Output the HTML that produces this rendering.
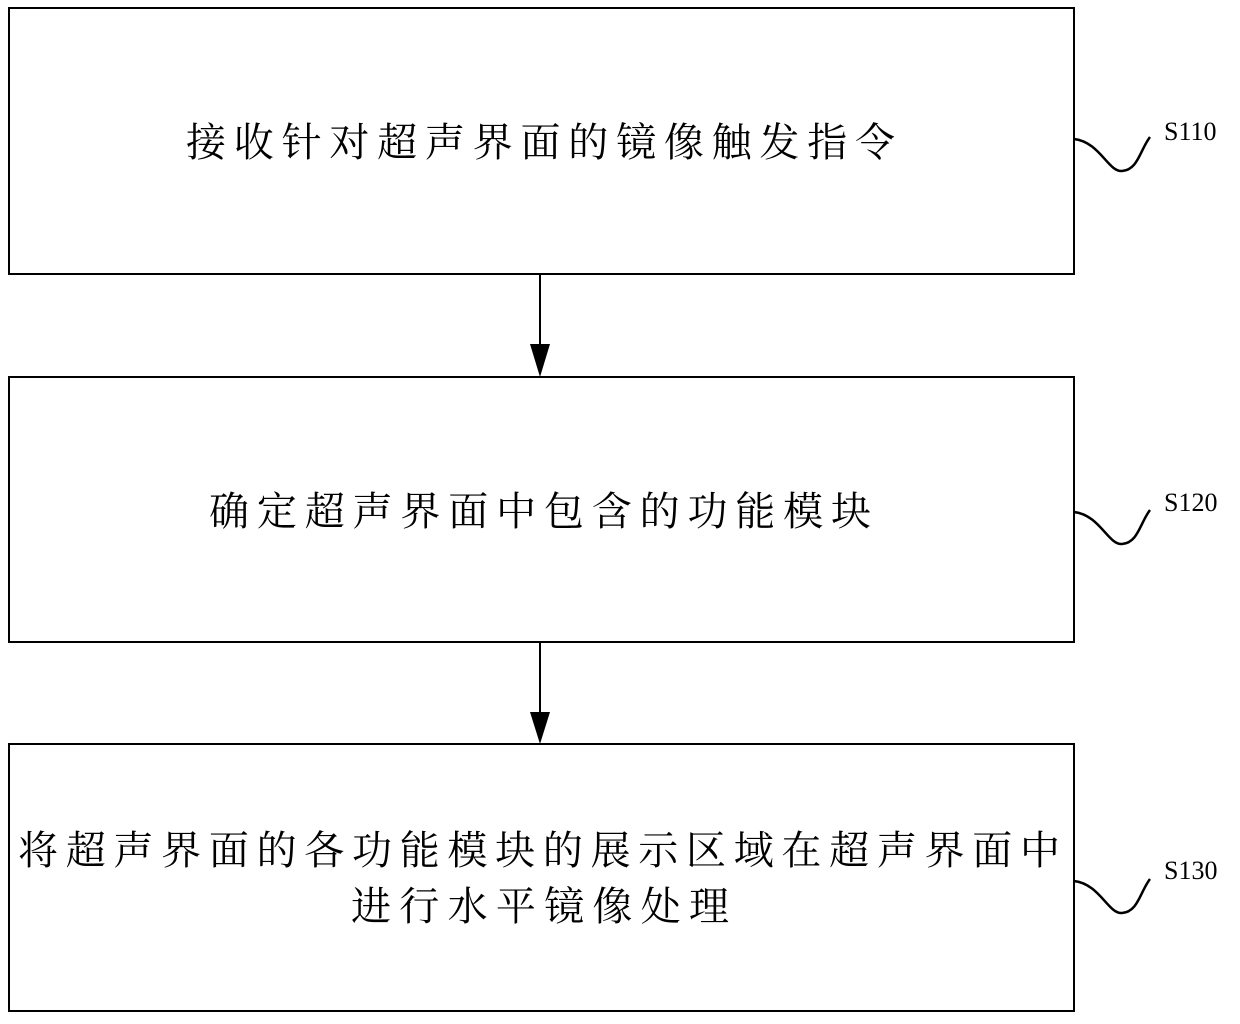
<!DOCTYPE html>
<html><head><meta charset="utf-8"><style>html,body{margin:0;padding:0;background:#fff;}</style></head>
<body>
<svg width="1240" height="1019" viewBox="0 0 1240 1019" xmlns="http://www.w3.org/2000/svg">
<g fill="none" stroke="#000" stroke-width="2">
<rect x="9" y="8" width="1065" height="266"/>
<rect x="9" y="377" width="1065" height="265"/>
<rect x="9" y="744" width="1065" height="267"/>
<line x1="540" y1="274" x2="540" y2="346"/>
<line x1="540" y1="642" x2="540" y2="714"/>
<path d="M1074 139 C1100 142 1108 172 1122 171 C1138 170 1140 150 1150 137" stroke-width="2.5"/>
<path d="M1074 512 C1100 515 1108 545 1122 544 C1138 543 1140 523 1150 510" stroke-width="2.5"/>
<path d="M1074 881 C1100 884 1108 914 1122 913 C1138 912 1140 892 1150 879" stroke-width="2.5"/>
</g>
<polygon points="530,344 550,344 540,377" fill="#000"/>
<polygon points="530,712 550,712 540,744" fill="#000"/>
<g font-family="'Liberation Serif','Noto Serif CJK SC',serif" fill="#000">
<text x="186" y="156" font-size="40" textLength="709" lengthAdjust="spacing">接收针对超声界面的镜像触发指令</text>
<text x="209" y="525" font-size="40" textLength="662" lengthAdjust="spacing">确定超声界面中包含的功能模块</text>
<text x="18" y="864" font-size="40" textLength="1042" lengthAdjust="spacing">将超声界面的各功能模块的展示区域在超声界面中</text>
<text x="351" y="920" font-size="40" textLength="378" lengthAdjust="spacing">进行水平镜像处理</text>
<text x="1164" y="140" font-size="26">S110</text>
<text x="1164" y="511" font-size="26">S120</text>
<text x="1164" y="879" font-size="26">S130</text>
</g>
</svg>
</body></html>
